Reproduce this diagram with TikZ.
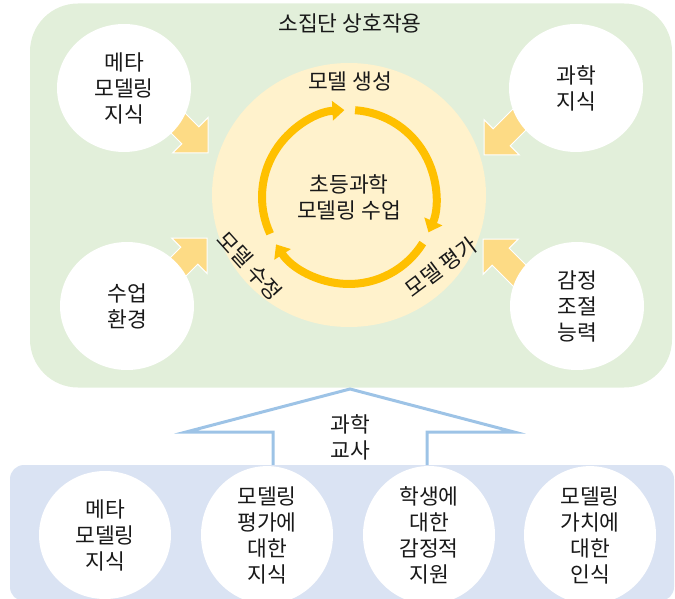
\documentclass[tikz,border=0pt]{standalone}
\usepackage{fontspec}
\setmainfont{Noto Sans CJK KR}
\usetikzlibrary{arrows.meta,shapes.geometric}
\definecolor{grnbg}{RGB}{226,239,218}
\definecolor{ylwbg}{RGB}{255,242,204}
\definecolor{cyccol}{RGB}{255,192,0}
\definecolor{fatcol}{RGB}{253,219,133}
\definecolor{blueln}{RGB}{157,195,230}
\definecolor{bluebg}{RGB}{218,227,243}
\definecolor{txtcol}{RGB}{25,25,25}
\tikzset{
  whitecirc/.style={ellipse, fill=white, inner sep=0pt, align=center, text=txtcol},
  cycarc/.style={line width=8pt, draw=cyccol, -{Triangle[width=19pt,length=12pt]}},
  fatarrow/.style={fill=fatcol, draw=white, line width=1pt, line join=miter},
  lbl/.style={text=txtcol, inner sep=0pt, align=center}
}
\begin{document}
\begin{tikzpicture}[x=1pt,y=-1pt,font=\fontsize{21.5}{26}\selectfont]
\useasboundingbox (0,0) rectangle (675,599);
% green group box
\node (grp) [rectangle, rounded corners=48pt, fill=grnbg, minimum width=642pt, minimum height=384pt, inner sep=0pt] at (351,195.5) {};
\node (title) [lbl] at (350,23) {소집단 상호작용};
% yellow ellipse
\node (core) [ellipse, fill=ylwbg, minimum width=274pt, minimum height=264pt, inner sep=0pt] at (349,195) {};
% fat arrows
\begin{scope}[shift={(208,153)}, rotate=-45]
  \path[fatarrow] (0,0) -- (-25,25) -- (-25,12) -- (-75,12) -- (-75,-12) -- (-25,-12) -- (-25,-25) -- cycle;
\end{scope}
\begin{scope}[shift={(484,155)}, rotate=-135]
  \path[fatarrow] (0,0) -- (-25,25) -- (-25,12) -- (-75,12) -- (-75,-12) -- (-25,-12) -- (-25,-25) -- cycle;
\end{scope}
\begin{scope}[shift={(207,238)}, rotate=45]
  \path[fatarrow] (0,0) -- (-25,25) -- (-25,12) -- (-75,12) -- (-75,-12) -- (-25,-12) -- (-25,-25) -- cycle;
\end{scope}
\begin{scope}[shift={(483,239)}, rotate=135]
  \path[fatarrow] (0,0) -- (-25,25) -- (-25,12) -- (-75,12) -- (-75,-12) -- (-25,-12) -- (-25,-25) -- cycle;
\end{scope}
% white circles
\node (meta) [whitecirc, minimum width=134pt, minimum height=128pt] at (124,88) {메타\\모델링\\지식};
\node (sci) [whitecirc, minimum width=134pt, minimum height=128pt] at (576,88) {과학\\지식};
\node (env) [whitecirc, minimum width=134pt, minimum height=128pt] at (127,306) {수업\\환경};
\node (emo) [whitecirc, minimum width=134pt, minimum height=128pt] at (577,306) {감정\\조절\\능력};
% cycle
\coordinate (cc) at (349,197);
\draw[cycarc] (cc) ++(-205:87) arc[start angle=-205, end angle=-93, radius=87];
\draw[cycarc] (cc) ++(-86:87) arc[start angle=-86, end angle=24, radius=87];
\draw[cycarc] (cc) ++(32:87) arc[start angle=32, end angle=147, radius=87];
\node (centre) [lbl] at (349,197) {초등과학\\모델링 수업};
\node (gen) [lbl] at (350,81) {모델 생성};
\node (rev) [lbl, rotate=-48] at (250,266) {모델 수정};
\node (eval) [lbl, rotate=37] at (441,267) {모델 평가};
% blue arrow
\coordinate (tip) at (350,389);
\draw[blueln, line width=3pt, line join=miter] (273,466) -- (273,432) -- (186,432) -- (tip) -- (514,432) -- (427,432) -- (427,466);
\node (teacher) [lbl] at (350,437) {과학\\교사};
% blue box
\node (tbox) [rectangle, rounded corners=14pt, fill=bluebg, minimum width=664pt, minimum height=136pt, inner sep=0pt] at (342,533) {};
\node (b1) [whitecirc, minimum width=132pt, minimum height=128pt] at (105,535) {메타\\모델링\\지식};
\node (b2) [whitecirc, minimum width=132pt, minimum height=128pt] at (267,535) {모델링\\평가에\\대한\\지식};
\node (b3) [whitecirc, minimum width=132pt, minimum height=128pt] at (429,535) {학생에\\대한\\감정적\\지원};
\node (b4) [whitecirc, minimum width=132pt, minimum height=128pt] at (590,535) {모델링\\가치에\\대한\\인식};
\end{tikzpicture}
\end{document}
